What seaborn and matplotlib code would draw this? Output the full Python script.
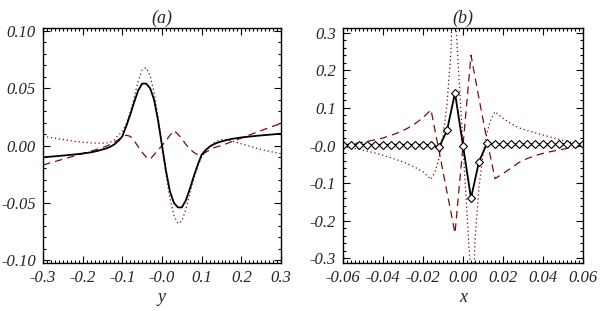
import numpy as np
import pandas as pd
import matplotlib
matplotlib.use("Agg")
import matplotlib.pyplot as plt
from matplotlib.ticker import FixedLocator, FixedFormatter, MultipleLocator
import seaborn as sns

# panel (a): profiles across y
y_a = np.round(np.arange(-0.30, 0.3001, 0.01), 2)
solid_a = [-0.0103, -0.0100, -0.0097, -0.0094, -0.0091, -0.0088, -0.0085, -0.0081, -0.0078, -0.0074,
           -0.0070, -0.0065, -0.0060, -0.0053, -0.0045, -0.0035, -0.0025, -0.0010, 0.0010, 0.0040,
           0.0080, 0.0170, 0.0270, 0.0380, 0.0480, 0.0540, 0.0540, 0.0500, 0.0400, 0.0220,
           0.0000,
           -0.0220, -0.0400, -0.0500, -0.0540, -0.0540, -0.0480, -0.0380, -0.0270, -0.0170, -0.0080,
           -0.0040, -0.0010, 0.0010, 0.0025, 0.0035, 0.0045, 0.0053, 0.0060, 0.0065, 0.0070,
           0.0074, 0.0078, 0.0081, 0.0085, 0.0088, 0.0091, 0.0094, 0.0097, 0.0100, 0.0103]
dash_a = [-0.0170, -0.0160, -0.0150, -0.0140, -0.0130, -0.0120, -0.0110, -0.0100, -0.0090, -0.0080,
          -0.0070, -0.0060, -0.0050, -0.0040, -0.0030, -0.0020, -0.0005, 0.0010, 0.0030, 0.0050,
          0.0070, 0.0090, 0.0080, 0.0040, -0.0010, -0.0060, -0.0100, -0.0120, -0.0080, -0.0040,
          0.0000,
          0.0040, 0.0090, 0.0130, 0.0100, 0.0060, 0.0010, -0.0030, -0.0060, -0.0080, -0.0080,
          -0.0060, -0.0040, -0.0020, -0.0010, 0.0000, 0.0013, 0.0026, 0.0039, 0.0052, 0.0065,
          0.0078, 0.0091, 0.0104, 0.0117, 0.0130, 0.0143, 0.0156, 0.0169, 0.0180, 0.0190]
dot_a = [0.0080, 0.0075, 0.0070, 0.0064, 0.0058, 0.0052, 0.0047, 0.0042, 0.0037, 0.0033,
         0.0029, 0.0026, 0.0023, 0.0021, 0.0020, 0.0020, 0.0022, 0.0030, 0.0050, 0.0090,
         0.0120, 0.0190, 0.0290, 0.0420, 0.0560, 0.0660, 0.0680, 0.0610, 0.0460, 0.0250,
         0.0000,
         -0.0250, -0.0460, -0.0610, -0.0680, -0.0660, -0.0560, -0.0420, -0.0290, -0.0180, -0.0100,
         -0.0050, -0.0010, 0.0020, 0.0040, 0.0050, 0.0050, 0.0045, 0.0035, 0.0025, 0.0015,
         0.0005, -0.0005, -0.0015, -0.0025, -0.0035, -0.0043, -0.0050, -0.0058, -0.0065, -0.0072]

# panel (b): profiles across x
x_b = np.round(np.arange(-0.060, 0.0601, 0.004), 3)
solid_b = [0.002, 0.002, 0.002, 0.002, 0.002, 0.002, 0.002, 0.002, 0.002, 0.002,
           0.002, 0.001, -0.005, 0.040, 0.140, 0.000, -0.140, -0.043, 0.006, 0.003,
           0.003, 0.003, 0.003, 0.003, 0.003, 0.003, 0.003, 0.003, 0.003, 0.003, 0.003]
dash_b = [0.001, 0.004, 0.007, 0.011, 0.015, 0.020, 0.027, 0.035, 0.045, 0.058,
          0.074, 0.095, -0.014, -0.124, -0.233, 0.000, 0.240, 0.125, 0.014, -0.088,
          -0.075, -0.060, -0.045, -0.035, -0.027, -0.021, -0.016, -0.012, -0.008, -0.004, -0.001]
x_b_dot = [-0.060, -0.056, -0.052, -0.048, -0.044, -0.040, -0.036, -0.032, -0.028, -0.024,
           -0.020, -0.016, -0.014, -0.012, -0.010, -0.008, -0.006, -0.005, -0.004, -0.002,
           0.000, 0.002, 0.004, 0.005, 0.006, 0.008, 0.010, 0.012, 0.014, 0.016,
           0.020, 0.024, 0.028, 0.032, 0.036, 0.040, 0.044, 0.048, 0.052, 0.056, 0.060]
dot_b = [-0.003, -0.006, -0.010, -0.015, -0.020, -0.026, -0.033, -0.040, -0.048, -0.058,
         -0.070, -0.090, -0.070, -0.035, 0.025, 0.110, 0.250, 0.440, 0.360, 0.180,
         0.000, -0.180, -0.360, -0.440, -0.250, -0.110, -0.025, 0.035, 0.070, 0.090,
         0.072, 0.058, 0.047, 0.040, 0.034, 0.028, 0.022, 0.016, 0.011, 0.006, 0.003]

xticks_a = [-0.3, -0.2, -0.1, 0.0, 0.1, 0.2, 0.3]
xlabels_a = ["-0.3", "-0.2", "-0.1", "-0.0", "0.1", "0.2", "0.3"]
yticks_a = [-0.10, -0.05, 0.0, 0.05, 0.10]
ylabels_a = ["-0.10", "-0.05", "0.00", "0.05", "0.10"]
xticks_b = [-0.06, -0.04, -0.02, 0.0, 0.02, 0.04, 0.06]
xlabels_b = ["-0.06", "-0.04", "-0.02", "0.00", "0.02", "0.04", "0.06"]
yticks_b = [-0.3, -0.2, -0.1, 0.0, 0.1, 0.2, 0.3]
ylabels_b = ["-0.3", "-0.2", "-0.1", "-0.0", "0.1", "0.2", "0.3"]

sns.set_style("ticks")
plt.rcParams['font.family'] = ['Liberation Serif', 'DejaVu Serif']
plt.rcParams['font.style'] = 'italic'
plt.rcParams['mathtext.default'] = 'it'

red = '#7a0c0c'
fig = plt.figure(figsize=(6.0, 3.11), dpi=100)
ax1 = fig.add_axes([43/600, 1-263/311, 238/600, 235/311])
ax2 = fig.add_axes([343/600, 1-263/311, 240/600, 235/311])

sns.lineplot(x=y_a, y=dash_a, ax=ax1, color=red, lw=0.9, linestyle=(0, (6, 4)))
sns.lineplot(x=y_a, y=dot_a, ax=ax1, color=red, lw=0.9, linestyle=(0, (1, 2.2)))
sns.lineplot(x=y_a, y=solid_a, ax=ax1, color='black', lw=1.3)

sns.lineplot(x=x_b, y=dash_b, ax=ax2, color=red, lw=0.9, linestyle=(0, (6, 4)))
sns.lineplot(x=x_b_dot, y=dot_b, ax=ax2, color=red, lw=0.9, linestyle=(0, (1, 2.2)))
sns.lineplot(x=x_b, y=solid_b, ax=ax2, color='black', lw=1.3, marker='D',
             markersize=4, markerfacecolor='white', markeredgecolor='black', markeredgewidth=0.8)

panels = [
    (ax1, (-0.3, 0.3), (-0.1025, 0.1025), xticks_a, xlabels_a, yticks_a, ylabels_a, 0.01, 0.01, '(a)', 'y'),
    (ax2, (-0.06, 0.06), (-0.3125, 0.3125), xticks_b, xlabels_b, yticks_b, ylabels_b, 0.002, 0.02, '(b)', 'x'),
]
for ax, xl, yl, xt, xtl, yt, ytl, xm, ym, title, xlab in panels:
    ax.set_xlim(*xl)
    ax.set_ylim(*yl)
    ax.xaxis.set_major_locator(FixedLocator(xt))
    ax.xaxis.set_major_formatter(FixedFormatter(xtl))
    ax.yaxis.set_major_locator(FixedLocator(yt))
    ax.yaxis.set_major_formatter(FixedFormatter(ytl))
    ax.xaxis.set_minor_locator(MultipleLocator(xm))
    ax.yaxis.set_minor_locator(MultipleLocator(ym))
    ax.tick_params(which='both', direction='in', top=True, right=True, labelsize=12, pad=5,
                   color='black', width=0.8)
    ax.tick_params(which='major', length=5)
    ax.tick_params(which='minor', length=2.5)
    for s in ax.spines.values():
        s.set_linewidth(1.0)
        s.set_color('black')
    ax.set_title(title, fontsize=13, pad=4)
    ax.set_xlabel(xlab, fontsize=13, labelpad=2)

fig.savefig('out.png', dpi=100)
